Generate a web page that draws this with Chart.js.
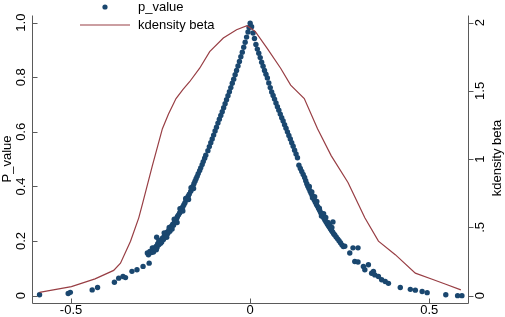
<!DOCTYPE html>
<html>
<head>
<meta charset="utf-8">
<script src="https://cdn.jsdelivr.net/npm/chart.js@4/dist/chart.umd.min.js"></script>
<style>
  body { margin: 0; background: #fff; }
  canvas { display: block; }
</style>
</head>
<body>
<canvas id="chart" width="505" height="317"></canvas>
<script>
// p_value against beta as [beta, p]
const pValuePts = [
  // left tail
  [-0.588,0.003],[-0.508,0.008],[-0.502,0.012],[-0.441,0.021],[-0.426,0.030],
  [-0.379,0.049],[-0.367,0.064],[-0.355,0.070],[-0.348,0.066],[-0.330,0.089],
  [-0.316,0.095],[-0.299,0.107],[-0.282,0.119],[-0.287,0.156],[-0.284,0.150],
  [-0.280,0.162],[-0.273,0.175],[-0.261,0.214],
  // left branch
  [-0.276,0.158],[-0.272,0.166],[-0.270,0.160],[-0.268,0.175],[-0.265,0.170],
  [-0.262,0.181],[-0.260,0.176],[-0.258,0.190],[-0.255,0.186],[-0.252,0.198],
  [-0.250,0.192],[-0.248,0.204],[-0.245,0.210],[-0.242,0.206],[-0.240,0.218],
  [-0.237,0.224],[-0.235,0.219],[-0.232,0.232],[-0.230,0.228],[-0.227,0.240],
  [-0.224,0.236],[-0.222,0.248],[-0.219,0.255],[-0.216,0.262],[-0.214,0.258],
  [-0.211,0.270],[-0.208,0.277],[-0.205,0.283],[-0.203,0.290],[-0.200,0.296],
  [-0.197,0.303],[-0.194,0.310],[-0.191,0.318],[-0.188,0.326],[-0.185,0.333],
  [-0.182,0.340],[-0.179,0.350],[-0.176,0.357],[-0.173,0.364],[-0.170,0.372],
  [-0.166,0.382],[-0.163,0.391],[-0.160,0.400],[-0.157,0.410],[-0.154,0.419],
  [-0.151,0.428],[-0.148,0.437],[-0.145,0.447],[-0.141,0.458],[-0.138,0.468],
  [-0.134,0.480],[-0.131,0.491],[-0.127,0.503],[-0.124,0.514],[-0.118,0.531],
  [-0.114,0.546],[-0.110,0.560],[-0.106,0.574],[-0.102,0.588],[-0.098,0.603],
  [-0.094,0.617],[-0.090,0.632],[-0.086,0.646],[-0.082,0.660],[-0.078,0.674],
  [-0.074,0.688],[-0.070,0.703],[-0.066,0.718],[-0.062,0.732],[-0.058,0.747],
  [-0.054,0.762],[-0.050,0.778],[-0.046,0.793],[-0.042,0.809],[-0.038,0.825],
  [-0.034,0.841],[-0.030,0.858],[-0.026,0.875],[-0.022,0.892],[-0.018,0.910],
  [-0.014,0.928],[-0.010,0.947],[-0.006,0.966],[-0.003,0.982],[0.000,0.998],
  [-0.262,0.168],[-0.255,0.200],[-0.247,0.196],[-0.240,0.230],[-0.233,0.214],
  [-0.226,0.250],[-0.218,0.244],[-0.212,0.280],[-0.204,0.268],[-0.196,0.318],
  [-0.188,0.310],[-0.180,0.356],[-0.172,0.352],[-0.165,0.395],[-0.158,0.392],
  // right branch
  [0.004,0.985],[0.008,0.962],[0.012,0.942],[0.016,0.920],[0.020,0.903],
  [0.024,0.888],[0.028,0.872],[0.032,0.855],[0.036,0.840],[0.040,0.825],
  [0.044,0.811],[0.048,0.797],[0.052,0.779],[0.056,0.762],[0.060,0.746],
  [0.064,0.733],[0.068,0.720],[0.072,0.706],[0.076,0.692],[0.080,0.679],
  [0.084,0.665],[0.088,0.652],[0.092,0.640],[0.096,0.626],[0.100,0.613],
  [0.104,0.600],[0.108,0.587],[0.112,0.574],[0.116,0.560],[0.120,0.547],
  [0.124,0.533],[0.128,0.519],[0.132,0.505],[0.136,0.478],[0.140,0.466],
  [0.144,0.455],[0.148,0.444],[0.152,0.433],[0.155,0.421],[0.158,0.410],
  [0.161,0.401],[0.164,0.392],[0.167,0.383],[0.170,0.375],[0.173,0.367],
  [0.176,0.358],[0.179,0.350],[0.182,0.342],[0.185,0.334],[0.188,0.327],
  [0.191,0.319],[0.194,0.312],[0.197,0.304],[0.200,0.297],[0.203,0.290],
  [0.206,0.283],[0.209,0.276],[0.212,0.270],[0.215,0.263],[0.218,0.257],
  [0.221,0.251],[0.224,0.245],[0.227,0.239],[0.230,0.233],[0.233,0.227],
  [0.236,0.222],[0.240,0.215],[0.244,0.208],[0.248,0.201],[0.252,0.194],
  [0.256,0.186],[0.260,0.180],
  [0.165,0.400],[0.172,0.380],[0.174,0.359],[0.180,0.362],[0.186,0.345],
  [0.193,0.320],[0.199,0.292],[0.205,0.300],[0.211,0.286],[0.217,0.268],
  [0.222,0.262],[0.228,0.250],[0.231,0.270],
  // right tail
  [0.264,0.181],[0.278,0.156],[0.287,0.175],[0.292,0.125],[0.301,0.123],
  [0.301,0.175],[0.316,0.107],[0.320,0.095],[0.330,0.113],[0.339,0.082],
  [0.344,0.089],[0.348,0.076],[0.358,0.070],[0.367,0.058],[0.377,0.052],
  [0.386,0.045],[0.419,0.030],[0.447,0.023],[0.461,0.020],[0.480,0.015],
  [0.494,0.011],[0.546,0.003],[0.579,0.000],[0.591,0.000]
];

// kernel density of beta
const kdBeta = [-0.588,-0.565,-0.499,-0.433,-0.381,-0.362,-0.334,-0.311,-0.301,-0.273,
  -0.245,-0.228,-0.207,-0.188,-0.169,-0.141,-0.113,-0.075,-0.038,-0.009,0.014,0.047,
  0.085,0.113,0.151,0.188,0.226,0.273,0.302,0.320,0.358,0.405,
  0.461,0.508,0.546,0.588];
const kdDens = [0.024,0.035,0.066,0.123,0.185,0.238,0.399,0.570,0.669,0.952,
  1.223,1.330,1.444,1.510,1.567,1.666,1.788,1.887,1.948,1.978,1.936,1.813,
  1.666,1.542,1.444,1.223,1.026,0.829,0.669,0.570,0.399,0.300,
  0.165,0.120,0.083,0.042];

// tick labels
const xTicks = [-0.5, 0, 0.5];
const xTickLabels = ['-0.5', '0', '0.5'];
const pTicks = [0, 0.2, 0.4, 0.6, 0.8, 1.0];
const pTickLabels = ['0', '0.2', '0.4', '0.6', '0.8', '1.0'];
const kdTicks = [0, 0.5, 1, 1.5, 2];
const kdTickLabels = ['0', '.5', '1', '1.5', '2'];

const navy = 'rgb(26,71,111)';
const maroon = 'rgb(152,62,68)';
const axisColor = '#5a5a5a';
const font = '13px "Liberation Sans", Arial, sans-serif';

// stata-like axes, ticks, titles and legend
const stataAxes = {
  id: 'stataAxes',
  afterDraw(chart) {
    const { ctx, chartArea: a, scales } = chart;
    const x = scales.x, y = scales.y, y2 = scales.y2;
    const L = Math.round(a.left) + 0.5, R = Math.round(a.right) + 0.5;
    const T = Math.round(a.top) + 0.5, B = Math.round(a.bottom) + 0.5;
    ctx.save();
    ctx.strokeStyle = axisColor;
    ctx.lineWidth = 1;
    ctx.beginPath();
    ctx.moveTo(L, T); ctx.lineTo(L, B); ctx.lineTo(R, B);
    ctx.moveTo(R, T); ctx.lineTo(R, B);
    pTicks.forEach(v => {
      const py = Math.round(y.getPixelForValue(v)) + 0.5;
      ctx.moveTo(L, py); ctx.lineTo(L + 5, py);
    });
    kdTicks.forEach(v => {
      const py = Math.round(y2.getPixelForValue(v)) + 0.5;
      ctx.moveTo(R, py); ctx.lineTo(R + 5, py);
    });
    xTicks.forEach(v => {
      const px = Math.round(x.getPixelForValue(v)) + 0.5;
      ctx.moveTo(px, B); ctx.lineTo(px, B - 5);
    });
    ctx.stroke();

    ctx.fillStyle = '#000';
    ctx.font = font;
    ctx.textAlign = 'center';
    ctx.textBaseline = 'middle';
    xTicks.forEach((v, i) => {
      ctx.fillText(xTickLabels[i], x.getPixelForValue(v), 310);
    });
    const vtext = (txt, cx, cy) => {
      ctx.save();
      ctx.translate(cx, cy);
      ctx.rotate(-Math.PI / 2);
      ctx.fillText(txt, 0, 0);
      ctx.restore();
    };
    pTicks.forEach((v, i) => vtext(pTickLabels[i], 21, y.getPixelForValue(v)));
    kdTicks.forEach((v, i) => vtext(kdTickLabels[i], 480, y2.getPixelForValue(v)));
    vtext('P_value', 7, 159);
    vtext('kdensity beta', 497, 158);

    // legend
    const ds = chart.data.datasets;
    ctx.textAlign = 'left';
    ctx.fillStyle = navy;
    ctx.beginPath();
    ctx.arc(105, 7, 2.6, 0, Math.PI * 2);
    ctx.fill();
    ctx.strokeStyle = maroon;
    ctx.lineWidth = 1.2;
    ctx.beginPath();
    ctx.moveTo(80, 25); ctx.lineTo(130, 25);
    ctx.stroke();
    ctx.fillStyle = '#000';
    ctx.fillText(ds[1].label, 138, 7);
    ctx.fillText(ds[0].label, 138, 25);
    ctx.restore();
  }
};

new Chart(document.getElementById('chart'), {
  type: 'scatter',
  data: {
    datasets: [
      {
        label: 'kdensity beta',
        data: kdBeta.map((b, i) => ({ x: b, y: kdDens[i] })),
        yAxisID: 'y2',
        showLine: true,
        borderColor: maroon,
        borderWidth: 1.2,
        pointRadius: 0,
        tension: 0
      },
      {
        label: 'p_value',
        data: pValuePts.map(p => ({ x: p[0], y: p[1] })),
        yAxisID: 'y',
        backgroundColor: navy,
        borderWidth: 0,
        pointRadius: 2.7
      }
    ]
  },
  options: {
    responsive: false,
    animation: false,
    layout: { padding: { left: 32, right: 37, top: 15, bottom: 14 } },
    plugins: { legend: { display: false }, tooltip: { enabled: false } },
    scales: {
      x: { type: 'linear', min: -0.609, max: 0.608, display: false },
      y: { type: 'linear', min: -0.027, max: 1.028, display: false },
      y2: { type: 'linear', position: 'right', min: -0.054, max: 2.056, display: false }
    }
  },
  plugins: [stataAxes]
});
</script>
</body>
</html>
